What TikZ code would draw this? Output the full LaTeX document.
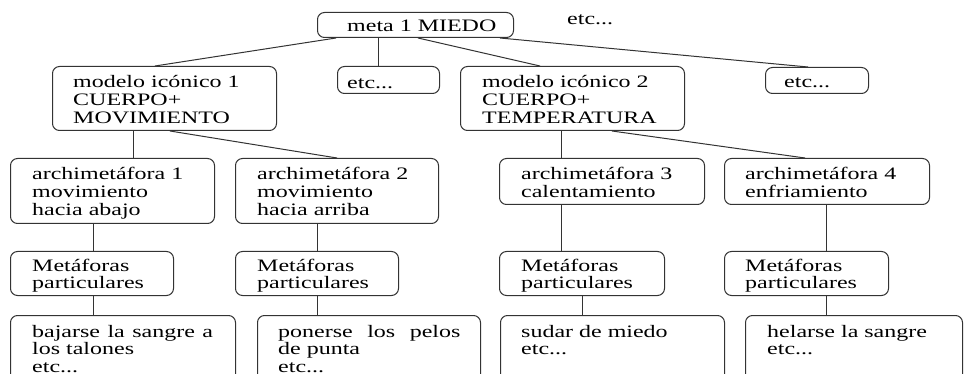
\documentclass[tikz,border=0pt]{standalone}
\usepackage{graphicx}
\usepackage{fontspec}
\setmainfont{Liberation Serif}
\tikzset{
  box/.style={draw=black!80, line width=1pt, rounded corners=7pt, inner sep=0pt, anchor=north west},
  txt/.style={inner sep=0pt, anchor=base west, font=\rmfamily\fontsize{17.5}{17.7}\selectfont, text=black},
  link/.style={draw=black!80, line width=1pt}
}
\newcommand\lines[1]{\scalebox{1.37}[1]{\vtop{#1}}}
\begin{document}
\begin{tikzpicture}[x=1pt,y=-1pt]
\clip (0,0) rectangle (964,374);
\fill[white] (0,0) rectangle (964,374);
% level 0
\node[box, minimum width=196pt, minimum height=25pt] (meta) at (317,12) {};
\node[txt] (metaT) at ([xshift=30pt,yshift=-20pt]meta.north west) {\lines{\hbox{meta 1 MIEDO}}};
\node[txt] (etcT) at (567,25) {\lines{\hbox{etc...}}};
% level 1
\node[box, minimum width=224pt, minimum height=64pt] (mod1) at (52,66) {};
\node[txt] (mod1T) at ([xshift=21pt,yshift=-22pt]mod1.north west) {\lines{\hbox{modelo icónico 1}\hbox{CUERPO+}\hbox{MOVIMIENTO}}};
\node[box, minimum width=102pt, minimum height=27pt] (etcA) at (337,66) {};
\node[txt] (etcAT) at ([xshift=10pt,yshift=-23pt]etcA.north west) {\lines{\hbox{etc...}}};
\node[box, minimum width=224pt, minimum height=64pt] (mod2) at (460,66) {};
\node[txt] (mod2T) at ([xshift=22pt,yshift=-22pt]mod2.north west) {\lines{\hbox{modelo icónico 2}\hbox{CUERPO+}\hbox{TEMPERATURA}}};
\node[box, minimum width=103pt, minimum height=26pt] (etcB) at (765,67) {};
\node[txt] (etcBT) at ([xshift=19pt,yshift=-21pt]etcB.north west) {\lines{\hbox{etc...}}};
% level 2
\node[box, minimum width=204pt, minimum height=65pt] (ar1) at (10,158) {};
\node[txt] (ar1T) at ([xshift=22pt,yshift=-22pt]ar1.north west) {\lines{\hbox{archimetáfora 1}\hbox{movimiento}\hbox{hacia abajo}}};
\node[box, minimum width=203pt, minimum height=65pt] (ar2) at (235,158) {};
\node[txt] (ar2T) at ([xshift=22pt,yshift=-22pt]ar2.north west) {\lines{\hbox{archimetáfora 2}\hbox{movimiento}\hbox{hacia arriba}}};
\node[box, minimum width=205pt, minimum height=46pt] (ar3) at (499,158) {};
\node[txt] (ar3T) at ([xshift=22pt,yshift=-22pt]ar3.north west) {\lines{\hbox{archimetáfora 3}\hbox{calentamiento}}};
\node[box, minimum width=205pt, minimum height=46pt] (ar4) at (724,158) {};
\node[txt] (ar4T) at ([xshift=21pt,yshift=-22pt]ar4.north west) {\lines{\hbox{archimetáfora 4}\hbox{enfriamiento}}};
% level 3
\node[box, minimum width=163pt, minimum height=44pt] (mf1) at (10,251) {};
\node[txt] (mf1T) at ([xshift=22pt,yshift=-20pt]mf1.north west) {\lines{\hbox{Metáforas}\hbox{particulares}}};
\node[box, minimum width=163pt, minimum height=44pt] (mf2) at (235,251) {};
\node[txt] (mf2T) at ([xshift=22pt,yshift=-20pt]mf2.north west) {\lines{\hbox{Metáforas}\hbox{particulares}}};
\node[box, minimum width=165pt, minimum height=44pt] (mf3) at (499,251) {};
\node[txt] (mf3T) at ([xshift=22pt,yshift=-20pt]mf3.north west) {\lines{\hbox{Metáforas}\hbox{particulares}}};
\node[box, minimum width=164pt, minimum height=44pt] (mf4) at (724,251) {};
\node[txt] (mf4T) at ([xshift=21pt,yshift=-20pt]mf4.north west) {\lines{\hbox{Metáforas}\hbox{particulares}}};
% level 4
\node[box, minimum width=225pt, minimum height=90pt] (b1) at (10,315) {};
\node[txt] (b1T) at ([xshift=22pt,yshift=-22pt]b1.north west) {\lines{\hbox{\makebox[132pt][s]{bajarse la sangre a}}\hbox{los talones}\hbox{etc...}}};
\node[box, minimum width=223pt, minimum height=90pt] (b2) at (257,315) {};
\node[txt] (b2T) at ([xshift=21pt,yshift=-22pt]b2.north west) {\lines{\hbox{\makebox[133pt][s]{ponerse los pelos}}\hbox{de punta}\hbox{etc...}}};
\node[box, minimum width=224pt, minimum height=90pt] (b3) at (500,315) {};
\node[txt] (b3T) at ([xshift=21pt,yshift=-22pt]b3.north west) {\lines{\hbox{sudar de miedo}\hbox{etc...}}};
\node[box, minimum width=217pt, minimum height=90pt] (b4) at (745,315) {};
\node[txt] (b4T) at ([xshift=22pt,yshift=-22pt]b4.north west) {\lines{\hbox{helarse la sangre}\hbox{etc...}}};
% connectors
\draw[link] ([xshift=19pt]meta.south west) -- ([xshift=103pt]mod1.north west);
\draw[link] ([xshift=61pt]meta.south west) -- ([xshift=41pt]etcA.north west);
\draw[link] ([xshift=101pt]meta.south west) -- ([xshift=80pt]mod2.north west);
\draw[link] ([xshift=183pt]meta.south west) -- ([xshift=43pt]etcB.north west);
\draw[link] ([xshift=81pt]mod1.south west) -- ([xshift=123pt]ar1.north west);
\draw[link] ([xshift=118pt]mod1.south west) -- ([xshift=102pt]ar2.north west);
\draw[link] ([xshift=101pt]mod2.south west) -- ([xshift=62pt]ar3.north west);
\draw[link] ([xshift=152pt]mod2.south west) -- ([xshift=81pt]ar4.north west);
\draw[link] ([xshift=83pt]ar1.south west) -- ([xshift=83pt]mf1.north west);
\draw[link] ([xshift=82pt]ar2.south west) -- ([xshift=82pt]mf2.north west);
\draw[link] ([xshift=62pt]ar3.south west) -- ([xshift=62pt]mf3.north west);
\draw[link] ([xshift=102pt]ar4.south west) -- ([xshift=102pt]mf4.north west);
\draw[link] ([xshift=83pt]mf1.south west) -- ([xshift=83pt]b1.north west);
\draw[link] ([xshift=82pt]mf2.south west) -- ([xshift=60pt]b2.north west);
\draw[link] ([xshift=83pt]mf3.south west) -- ([xshift=82pt]b3.north west);
\draw[link] ([xshift=102pt]mf4.south west) -- ([xshift=81pt]b4.north west);
\end{tikzpicture}
\end{document}
